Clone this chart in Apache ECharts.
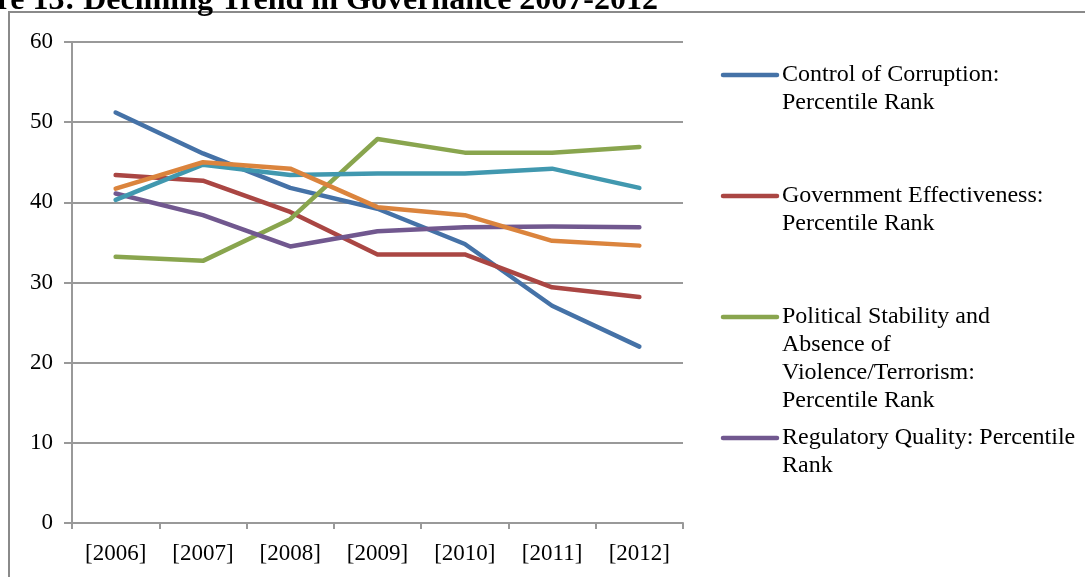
<!DOCTYPE html>
<html>
<head>
<meta charset="utf-8">
<style>
  html, body { margin: 0; padding: 0; background: #fff; }
  #chart { width: 1085px; height: 577px; }
</style>
<script src="https://cdn.jsdelivr.net/npm/echarts@6/dist/echarts.min.js"></script>
</head>
<body>
<div id="chart"></div>
<script>
// Worldwide Governance Indicators, percentile ranks by year
const years = ['[2006]', '[2007]', '[2008]', '[2009]', '[2010]', '[2011]', '[2012]'];

const controlOfCorruption     = [51.2, 46.1, 41.8, 39.2, 34.8, 27.1, 22.0];
const governmentEffectiveness = [43.4, 42.7, 38.8, 33.5, 33.5, 29.4, 28.2];
const politicalStability      = [33.2, 32.7, 37.9, 47.9, 46.2, 46.2, 46.9];
const regulatoryQuality       = [41.1, 38.4, 34.5, 36.4, 36.9, 37.0, 36.9];
const ruleOfLaw               = [40.3, 44.7, 43.4, 43.6, 43.6, 44.2, 41.8];
const voiceAccountability     = [41.7, 45.0, 44.2, 39.4, 38.4, 35.2, 34.6];

const yTicks = [0, 10, 20, 30, 40, 50, 60];

const seriesDefs = [
  { name: 'Control of Corruption: Percentile Rank', label: 'Control of Corruption:\nPercentile Rank', data: controlOfCorruption, color: '#4572A7', legend: true },
  { name: 'Government Effectiveness: Percentile Rank', label: 'Government Effectiveness:\nPercentile Rank', data: governmentEffectiveness, color: '#AA4643', legend: true },
  { name: 'Political Stability and Absence of Violence/Terrorism: Percentile Rank', label: 'Political Stability and\nAbsence of\nViolence/Terrorism:\nPercentile Rank', data: politicalStability, color: '#89A54E', legend: true },
  { name: 'Regulatory Quality: Percentile Rank', label: 'Regulatory Quality: Percentile\nRank', data: regulatoryQuality, color: '#71588F', legend: true },
  { name: 'Rule of Law: Percentile Rank', data: ruleOfLaw, color: '#4198AF', legend: false },
  { name: 'Voice and Accountability: Percentile Rank', data: voiceAccountability, color: '#DB843D', legend: false }
];

const FONT = '"Liberation Serif", "Times New Roman", serif';
const GRID_COLOR = '#999999';

// Legend drawn as line swatches with wrapped labels on the right
const legendTops = [75, 196, 317, 438];
const legendGraphics = [];
seriesDefs.filter(s => s.legend).forEach((s, i) => {
  const y = legendTops[i];
  legendGraphics.push({
    type: 'line',
    shape: { x1: 723, y1: y, x2: 777, y2: y },
    style: { stroke: s.color, lineWidth: 4.5, lineCap: 'round' }
  });
  legendGraphics.push({
    type: 'text',
    x: 782,
    y: y - 14,
    style: {
      text: s.label,
      font: '24px ' + FONT,
      fill: '#000',
      lineHeight: 28,
      verticalAlign: 'top'
    }
  });
});

const chart = echarts.init(document.getElementById('chart'), null, { renderer: 'canvas' });

chart.setOption({
  animation: false,
  backgroundColor: '#fff',
  grid: { left: 72, right: 402, top: 42, bottom: 54, containLabel: false },
  xAxis: {
    type: 'category',
    data: years,
    boundaryGap: true,
    axisLine: { show: true, lineStyle: { color: GRID_COLOR, width: 2 } },
    axisTick: { show: true, interval: 0, length: 6, lineStyle: { color: GRID_COLOR, width: 2 } },
    axisLabel: { interval: 0, margin: 19, color: '#000', fontSize: 23, fontFamily: FONT },
    splitLine: { show: false }
  },
  yAxis: {
    type: 'value',
    min: yTicks[0],
    max: yTicks[yTicks.length - 1],
    interval: 10,
    axisLine: { show: true, lineStyle: { color: GRID_COLOR, width: 2 } },
    axisTick: { show: true, length: 8, inside: false, lineStyle: { color: GRID_COLOR, width: 2 } },
    axisLabel: { margin: 19, color: '#000', fontSize: 23, fontFamily: FONT },
    splitLine: { show: true, lineStyle: { color: GRID_COLOR, width: 2 } }
  },
  series: seriesDefs.map(s => ({
    name: s.name,
    type: 'line',
    data: s.data,
    showSymbol: false,
    symbol: 'none',
    smooth: false,
    lineStyle: { color: s.color, width: 4.5, cap: 'round', join: 'round' },
    itemStyle: { color: s.color },
    emphasis: { disabled: true }
  })),
  graphic: [
    // chart frame
    {
      type: 'rect',
      shape: { x: 9, y: 12, width: 1200, height: 700 },
      style: { fill: null, stroke: '#8a8a8a', lineWidth: 2 },
      z: -1
    },
    // figure caption above the frame
    {
      type: 'text',
      x: 658,
      y: 17,
      style: {
        text: 'Figure 13: Declining Trend in Governance 2007-2012',
        font: 'bold 32px ' + FONT,
        fill: '#000',
        align: 'right',
        verticalAlign: 'bottom'
      }
    }
  ].concat(legendGraphics)
});
</script>
</body>
</html>
